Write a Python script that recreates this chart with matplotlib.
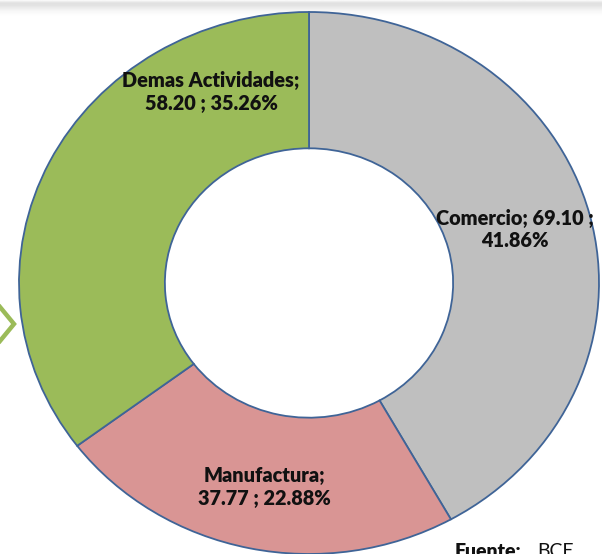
import numpy as np
import matplotlib
matplotlib.use("Agg")
import matplotlib.pyplot as plt
from matplotlib.lines import Line2D

categories = ["Comercio", "Manufactura", "Demas Actividades"]
values = [69.10, 37.77, 58.20]
percents = [41.86, 22.88, 35.26]
colors = ["#BFBFBF", "#D99594", "#9BBB59"]

labels = [
    f"{categories[0]}; {values[0]:.2f} ;\n{percents[0]:.2f}%",
    f"{categories[1]};\n{values[1]:.2f} ; {percents[1]:.2f}%",
    f"{categories[2]};\n{values[2]:.2f} ; {percents[2]:.2f}%",
]
# label positions in data units (layout)
label_pos = [(0.710, 0.196), (-0.155, -0.753), (-0.338, 0.705)]

W, H = 602, 554
fig = plt.figure(figsize=(W / 100, H / 100), dpi=100)
fig.patch.set_facecolor("white")

# top shadow band
band = fig.add_axes([0, 1 - 18 / H, 1, 18 / H])
grad = np.array([0.97, 0.90, 0.88, 0.89, 0.91, 0.93, 0.95, 0.97, 0.98, 0.99, 1.0, 1.0]).reshape(-1, 1)
band.imshow(np.repeat(grad, 10, axis=1), cmap="gray", vmin=0, vmax=1, aspect="auto",
            interpolation="bilinear", extent=[0, 1, 0, 1])
band.set_axis_off()

cx, cy = 309, 283
rx, ry = 290, 271
ax = fig.add_axes([(cx - rx) / W, (H - cy - ry) / H, 2 * rx / W, 2 * ry / H])
wedges, _ = ax.pie(values, colors=colors, startangle=90, counterclock=False,
                   radius=1.0,
                   wedgeprops=dict(width=0.503, edgecolor="#3F6497", linewidth=1.3))
ax.set_aspect("auto")
ax.set_xlim(-1, 1)
ax.set_ylim(-1, 1)
ax.set_axis_off()

for txt, (x, y) in zip(labels, label_pos):
    ax.text(x, y, txt, ha="center", va="center", fontsize=14.3, fontweight="heavy",
            family="Lato", color="#111111", linespacing=1.2, multialignment="center")

# green chevron at left edge
chev = Line2D([0 / W, 14 / W, 0 / W], [1 - 307 / H, 1 - 324 / H, 1 - 341 / H],
              transform=fig.transFigure, color="#9BBB59", linewidth=3.2,
              solid_joinstyle="miter")
fig.add_artist(chev)

# source note (partially cut off at bottom, as in the reference)
fig.text(455 / W, 1 - 557 / H, "Fuente:", fontsize=14, fontweight="heavy", family="Lato",
         ha="left", va="baseline", color="#111111")
fig.text(537 / W, 1 - 557 / H, "BCE", fontsize=14, family="Lato",
         ha="left", va="baseline", color="#111111")

fig.savefig("out.png", dpi=100)
